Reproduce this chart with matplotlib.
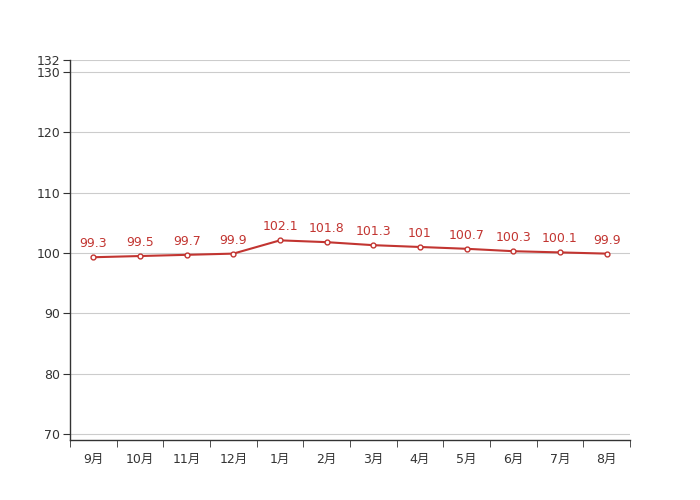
import matplotlib
matplotlib.use("Agg")
import matplotlib.pyplot as plt
from matplotlib.ticker import FixedLocator

plt.rcParams['font.family'] = ['DejaVu Sans', 'Noto Sans CJK SC']

# Data
months = ["9月", "10月", "11月", "12月", "1月", "2月", "3月", "4月", "5月", "6月", "7月", "8月"]
values = [99.3, 99.5, 99.7, 99.9, 102.1, 101.8, 101.3, 101, 100.7, 100.3, 100.1, 99.9]
yticks = [70, 80, 90, 100, 110, 120, 130, 132]

red = "#c23531"
txt = "#333333"

fig = plt.figure(figsize=(7, 5), dpi=100)
ax = fig.add_axes([0.1, 0.12, 0.8, 0.76])

x = list(range(len(months)))
ax.plot(x, values, color=red, lw=1.5, marker="o", ms=3.5,
        markerfacecolor="white", markeredgecolor=red, mew=1, zorder=3)
for xi, v in zip(x, values):
    ax.annotate(f"{v:g}", (xi, v), xytext=(0, 5), textcoords="offset points",
                ha="center", va="bottom", color=red, fontsize=9)

ax.set_xlim(-0.5, len(months) - 0.5)
ax.set_ylim(69, 132)
ax.set_yticks(yticks)
ax.set_yticklabels([str(t) for t in yticks])
ax.yaxis.grid(True, color="#cccccc", lw=0.8)
ax.set_axisbelow(True)

ax.set_xticks(x)
ax.set_xticklabels(months)
ax.xaxis.set_minor_locator(FixedLocator([i - 0.5 for i in range(len(months) + 1)]))
ax.tick_params(axis="x", which="major", length=0, pad=9, labelsize=9, labelcolor=txt)
ax.tick_params(axis="x", which="minor", length=5, color=txt, direction="out")
ax.tick_params(axis="y", length=5, color=txt, labelsize=9, labelcolor=txt, pad=2)

for s in ["top", "right"]:
    ax.spines[s].set_visible(False)
for s in ["left", "bottom"]:
    ax.spines[s].set_color(txt)
    ax.spines[s].set_linewidth(1)

fig.savefig("out.png", dpi=100)
